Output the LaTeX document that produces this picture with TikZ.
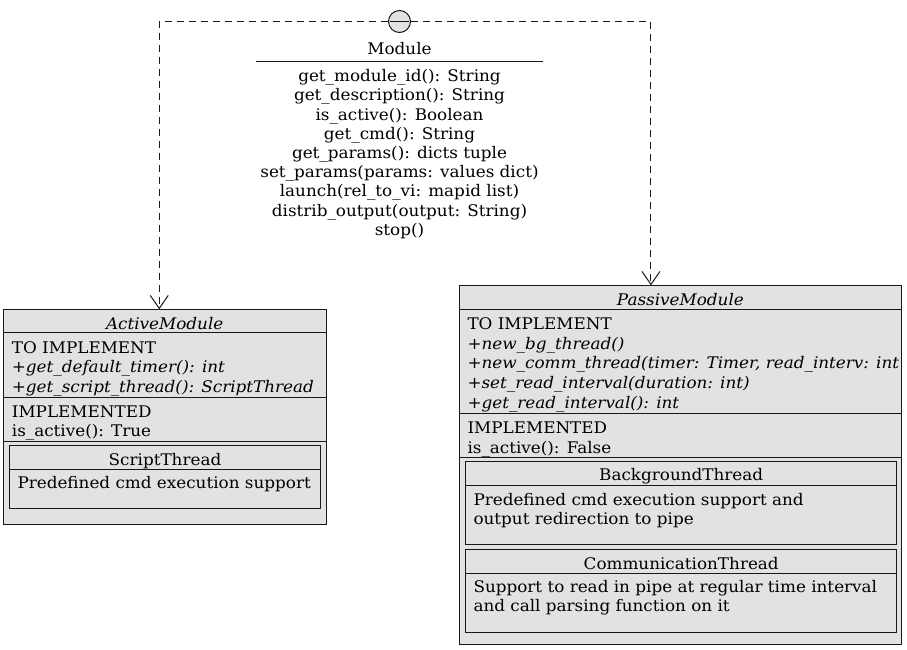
\documentclass[tikz,border=0pt]{standalone}
\usepackage{fontspec}
\setmainfont{DejaVu Serif}[FakeStretch=1.05]
\usetikzlibrary{arrows.meta}
\definecolor{boxfill}{HTML}{E2E2E2}
\definecolor{edgec}{HTML}{181818}
\newcommand{\ufs}{\fontsize{16}{19}\selectfont}
\begin{document}
\begin{tikzpicture}[x=1pt,y=-1pt,
  box/.style={draw=edgec, fill=boxfill, line width=1pt, rectangle, anchor=north west, inner sep=0pt, outer sep=0pt},
  sep/.style={draw=edgec, line width=1pt},
  txt/.style={anchor=base west, inner sep=0pt, font=\ufs, text=black},
  ctxt/.style={anchor=base, inner sep=0pt, font=\ufs, text=black},
  itxt/.style={txt, font=\ufs\itshape},
  conn/.style={draw=edgec, line width=1pt, dash pattern=on 7pt off 5pt, -{Straight Barb[length=13pt,width=18pt,line width=1pt]}}]
\useasboundingbox (0,0) rectangle (907,650);
\fill[white] (0,0) rectangle (907,650);

% interface
\node[circle, draw=edgec, fill=boxfill, line width=1pt, minimum size=22pt, inner sep=0pt] (iface) at (399.5,21.5) {};
\draw[sep] ([xshift=2pt]iface.west) -- ([xshift=-2pt]iface.east);
\node[ctxt] (mname) at (399.5,55) {Module};
\draw[sep] (256,61.7) -- (542.7,61.7);
\node[ctxt] (m1) at (399.5,81.7) {get\_module\_id(): String};
\node[ctxt] (m2) at (399.5,100.9) {get\_description(): String};
\node[ctxt] (m3) at (399.5,120.1) {is\_active(): Boolean};
\node[ctxt] (m4) at (399.5,139.3) {get\_cmd(): String};
\node[ctxt] (m5) at (399.5,158.5) {get\_params(): dicts tuple};
\node[ctxt] (m6) at (399.5,177.7) {set\_params(params: values dict)};
\node[ctxt] (m7) at (399.5,196.9) {launch(rel\_to\_vi: mapid list)};
\node[ctxt] (m8) at (399.5,216.1) {distrib\_output(output: String)};
\node[ctxt] (m9) at (399.5,235.3) {stop()};

% ActiveModule
\node[box, minimum width=322.7pt, minimum height=215pt] (active) at (3.3,309.3) {};
\node[anchor=base, inner sep=0pt, font=\ufs\itshape] (atitle) at (164.7,329.3) {ActiveModule};
\draw[sep] (3.3,332.7) -- (326,332.7);
\node[txt] (a1) at (11.7,353) {TO IMPLEMENT};
\node[itxt] (a2) at (11.7,372.7) {+get\_default\_timer(): int};
\node[itxt] (a3) at (11.7,392.3) {+get\_script\_thread(): ScriptThread};
\draw[sep] (3.3,397.3) -- (326,397.3);
\node[txt] (a4) at (11.7,417) {IMPLEMENTED};
\node[txt] (a5) at (11.7,436.7) {is\_active(): True};
\draw[sep] (3.3,441) -- (326,441);
\node[box, minimum width=311.4pt, minimum height=63.3pt] (script) at (9.3,445) {};
\node[ctxt] (stitle) at (165,465) {ScriptThread};
\draw[sep] (9.3,469.3) -- (320.7,469.3);
\node[txt] (s1) at (17.3,488) {Predefined cmd execution support};

% PassiveModule
\node[box, minimum width=442.7pt, minimum height=358.7pt] (passive) at (459,285.3) {};
\node[anchor=base, inner sep=0pt, font=\ufs\itshape] (ptitle) at (680.4,305) {PassiveModule};
\draw[sep] (459,309.3) -- (901.7,309.3);
\node[txt] (p1) at (467.3,329.3) {TO IMPLEMENT};
\node[itxt] (p2) at (467.3,349) {+new\_bg\_thread()};
\node[itxt] (p3) at (467.3,368.7) {+new\_comm\_thread(timer: Timer, read\_interv: int};
\node[itxt] (p4) at (467.3,388.3) {+set\_read\_interval(duration: int)};
\node[itxt] (p5) at (467.3,408) {+get\_read\_interval(): int};
\draw[sep] (459,413.3) -- (901.7,413.3);
\node[txt] (p6) at (467.3,433.3) {IMPLEMENTED};
\node[txt] (p7) at (467.3,453) {is\_active(): False};
\draw[sep] (459,457.3) -- (901.7,457.3);

\node[box, minimum width=431pt, minimum height=82.6pt] (bg) at (465.7,461.7) {};
\node[ctxt] (bgtitle) at (681.2,480.7) {BackgroundThread};
\draw[sep] (465.7,485.7) -- (896.7,485.7);
\node[txt] (b1) at (473.3,505) {Predefined cmd execution support and};
\node[txt] (b2) at (473.3,524) {output redirection to pipe};

\node[box, minimum width=431pt, minimum height=83pt] (comm) at (465.7,549.3) {};
\node[ctxt] (ctitle) at (681.2,569) {CommunicationThread};
\draw[sep] (465.7,573.3) -- (896.7,573.3);
\node[txt] (c1) at (473.3,592.7) {Support to read in pipe at regular time interval};
\node[txt] (c2) at (473.3,611.7) {and call parsing function on it};

% connectors
\draw[conn] (iface.west) -| ([xshift=-5.4pt]active.north);
\draw[conn] (iface.east) -| ([xshift=-29.4pt]passive.north);
\end{tikzpicture}
\end{document}
